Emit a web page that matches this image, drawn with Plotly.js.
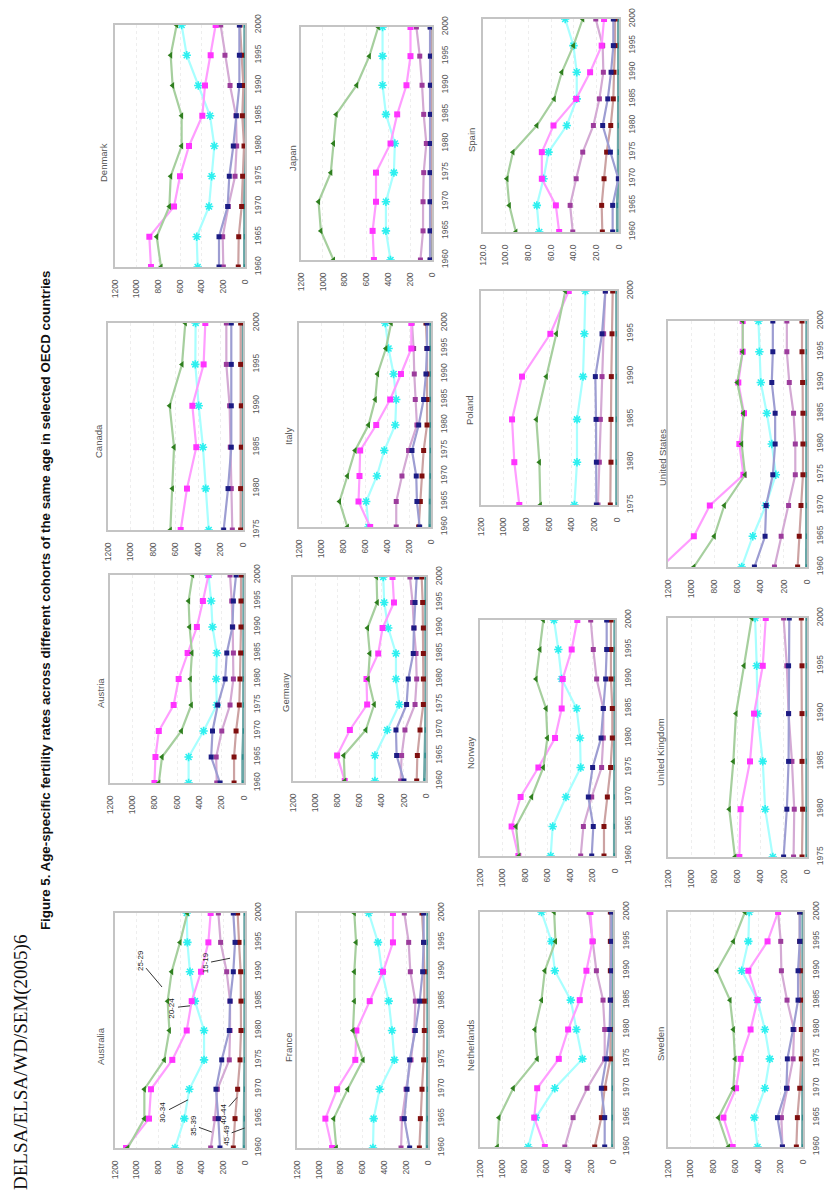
<!DOCTYPE html>
<html><head><meta charset="utf-8">
<script src="https://cdn.plot.ly/plotly-3.0.1.min.js"></script>
<style>html,body{margin:0;padding:0;background:#fff}#chart{width:826px;height:1198px}</style>
</head><body><div id="chart"></div><script>
// ---------------- DATA ----------------
const YEARS_1960 = [1960,1965,1970,1975,1980,1985,1990,1995,2000];
const YEARS_1975 = [1975,1980,1985,1990,1995,2000];
const AGE_GROUPS = ['15-19','20-24','25-29','30-34','35-39','40-44','45-49'];
const VALUE_TICKS = [0,200,400,600,800,1000,1200];
const SPAIN_TICKS = [0,20,40,60,80,100,120];
const SPAIN_TICK_TEXT = ['0','20.0','40.0','60.0','80.0','100.0','120.0'];

// rows: 15-19, 20-24, 25-29, 30-34, 35-39, 40-44, 45-49
const AUSTRALIA = [
  [231,246,268,215,145,138,108,92,108],
  [1098,886,868,671,538,492,406,338,317],
  [1083,929,929,745,698,714,677,600,532],
  [646,560,514,378,378,462,508,532,538],
  [317,277,255,145,138,138,169,225,246],
  [108,92,68,46,37,37,40,55,68],
  [10,6,4,3,3,3,3,3,3]];
const AUSTRIA = [
  [214,294,282,235,169,154,104,95,71],
  [802,793,763,630,585,505,422,368,318],
  [763,734,561,472,481,466,487,496,460],
  [496,496,362,244,249,244,282,294,318],
  [244,249,199,125,95,95,101,110,125],
  [89,89,71,42,36,30,27,27,27],
  [12,12,5,3,3,3,3,3,3]];
const CANADA = [
  [172,133,104,104,104,104],
  [554,498,415,450,350,335],
  [646,628,613,652,542,513],
  [305,332,356,394,424,421],
  [95,104,113,119,148,148],
  [21,21,15,15,21,21],
  [2,2,2,2,2,2]];
const DENMARK = [
  [240,240,160,145,108,80,52,52,52],
  [868,883,655,600,517,394,369,317,271],
  [775,815,698,686,585,585,668,686,631],
  [437,446,332,308,283,323,431,538,585],
  [200,206,154,92,77,83,138,185,225],
  [62,58,31,22,9,25,15,31,46],
  [5,4,3,2,2,2,2,2,3]];
const FRANCE = [
  [168,217,192,168,116,76,49,40,40],
  [879,940,833,666,656,534,412,321,321],
  [840,864,736,595,687,675,675,659,675],
  [504,498,443,308,330,360,421,458,543],
  [247,238,201,156,125,116,162,177,217],
  [79,70,55,40,34,34,34,40,55],
  [9,6,4,3,3,3,3,3,3]];
const GERMANY = [
  [199,265,271,175,160,115,109,99,84],
  [733,802,687,531,537,431,392,289,302],
  [733,742,543,467,522,507,528,440,446],
  [461,461,350,241,271,271,341,377,386],
  [229,220,190,99,84,90,109,121,145],
  [84,78,54,24,24,24,24,30,39],
  [15,8,5,3,3,3,3,3,3]];
const ITALY = [
  [103,128,134,173,112,67,46,36,36],
  [553,659,650,644,498,371,273,179,179],
  [760,832,760,690,568,507,486,410,362],
  [568,589,492,425,325,316,340,386,416],
  [316,316,264,204,128,143,152,158,173],
  [112,97,82,67,36,36,36,36,46],
  [12,12,6,4,3,3,3,3,3]];
const JAPAN = [
  [18,18,18,18,15,15,15,15,18],
  [532,544,513,513,380,319,234,197,197],
  [902,1018,1039,927,902,878,690,574,492],
  [380,422,422,349,340,422,453,453,453],
  [106,82,82,76,52,76,91,112,143],
  [15,10,8,6,5,6,8,10,12],
  [2,2,2,2,2,2,2,2,2]];
const NETHERLANDS = [
  [75,75,105,60,30,24,15,15,15],
  [615,711,684,489,405,300,240,186,204],
  [1044,1029,900,684,705,645,615,519,531],
  [765,696,525,276,330,381,525,555,645],
  [435,360,234,75,75,90,150,180,216],
  [165,105,75,24,24,24,24,24,24],
  [6,4,3,3,3,3,3,3,3]];
const NORWAY = [
  [207,193,237,199,124,104,83,74,74],
  [859,919,839,681,533,474,465,385,335],
  [853,880,741,637,601,613,702,667,637],
  [572,554,436,305,311,341,474,504,542],
  [305,281,207,119,104,104,163,193,216],
  [98,98,68,39,24,24,36,36,36],
  [6,5,4,3,3,3,3,3,3]];
const POLAND = [
  [182,182,185,191,132,103],
  [862,906,926,838,588,426],
  [676,685,712,624,535,456],
  [376,353,353,300,288,279],
  [168,156,147,132,118,103],
  [59,53,53,50,44,38],
  [4,4,4,4,4,4]];
const SPAIN = [
  [5.6,5.6,0.6,7.6,14.4,9.9,7.0,5.0,5.0],
  [52.8,55.7,68.1,68.1,57.8,37.8,25.5,15.3,13.2],
  [91.0,96.8,98.9,93.6,72.5,57.2,50.5,40.2,32.0],
  [70.4,72.5,66.6,62.2,46.1,37.3,37.3,40.2,47.5],
  [40.8,43.1,37.8,32.0,22.6,17.3,13.8,14.4,20.5],
  [14.7,15.3,13.2,10.9,7.3,5.0,4.4,3.5,3.5],
  [1.5,1.5,0.8,0.5,0.5,0.5,0.5,0.5,0.5]];
const SWEDEN = [
  [183,227,147,139,88,44,44,29,29],
  [625,707,595,554,466,404,486,315,221],
  [663,752,619,604,619,649,766,619,516],
  [404,433,339,295,339,404,545,486,478],
  [183,192,139,88,80,142,192,198,221],
  [59,50,29,15,15,21,24,29,29],
  [4,3,3,2,2,2,2,2,2]];
const UNITED_KINGDOM = [
  [202,174,159,159,159,153],
  [584,573,492,457,382,356],
  [622,671,636,613,544,477],
  [295,361,382,428,434,448],
  [116,110,130,159,174,202],
  [43,38,43,43,43,49],
  [3,3,3,3,3,3]];
const UNITED_STATES = [
  [454,362,353,295,275,275,304,295,295],
  [1260,977,839,549,584,544,593,555,555],
  [977,801,714,535,564,549,602,555,555],
  [564,468,356,269,304,347,399,411,419],
  [281,223,159,101,101,116,153,174,174],
  [81,67,52,35,35,35,38,43,43],
  [5,4,3,3,3,3,3,3,3]];

// ---------------- LAYOUT (page is rotated: years run upward, values run leftward) ----------------
const W = 826, H = 1198;
// box: [left, right, top, bottom] in px; lab: [x, y] of panel name
const PANELS = [
  {name:'Australia', data:AUSTRALIA, years:YEARS_1960, box:[115,245,913,1148], lab:[100,1046]},
  {name:'Austria', data:AUSTRIA, years:YEARS_1960, box:[110,244,575,783], lab:[100,693]},
  {name:'Canada', data:CANADA, years:YEARS_1975, box:[108,243,323,530], lab:[98,441]},
  {name:'Denmark', data:DENMARK, years:YEARS_1960, box:[115,245,25,267], lab:[103,163]},
  {name:'France', data:FRANCE, years:YEARS_1960, box:[297,428,913,1148], lab:[288,1047]},
  {name:'Germany', data:GERMANY, years:YEARS_1960, box:[293,426,577,781], lab:[285,693]},
  {name:'Italy', data:ITALY, years:YEARS_1960, box:[299,431,323,527], lab:[288,436]},
  {name:'Japan', data:JAPAN, years:YEARS_1960, box:[301,432,27,260], lab:[292,158]},
  {name:'Netherlands', data:NETHERLANDS, years:YEARS_1960, box:[480,613,912,1147], lab:[470,1046]},
  {name:'Norway', data:NORWAY, years:YEARS_1960, box:[480,615,620,856], lab:[470,753]},
  {name:'Poland', data:POLAND, years:YEARS_1975, box:[481,617,291,505], lab:[470,410]},
  {name:'Spain', data:SPAIN, years:YEARS_1960, box:[483,619,19,232], lab:[472,140], spain:true},
  {name:'Sweden', data:SWEDEN, years:YEARS_1960, box:[668,803,912,1147], lab:[660,1044]},
  {name:'United Kingdom', data:UNITED_KINGDOM, years:YEARS_1975, box:[668,807,618,857], lab:[660,752]},
  {name:'United States', data:UNITED_STATES, years:YEARS_1960, box:[668,807,321,567], lab:[662,458]}
];

const STYLES = [
  {line:'#9d9dd2', marker:'#1c1c84', symbol:'square', size:5, open:false, w:2.2},
  {line:'#ff9dff', marker:'#ff33ff', symbol:'square', size:6, open:false, w:2.2},
  {line:'#a6cf9e', marker:'#2f7f1f', symbol:'triangle-left', size:6, open:false, w:2.2},
  {line:'#a8ffff', marker:'#2ef0f0', symbol:'asterisk-open', size:7, open:true, w:2.2},
  {line:'#d4aad4', marker:'#9c3c9c', symbol:'square', size:5, open:false, w:2.2},
  {line:'#cca2a2', marker:'#7f0f0f', symbol:'square', size:5, open:false, w:2.2},
  {line:'#6aa6a6', marker:'#2f8f8f', symbol:'line-ns-open', size:4, open:true, w:2.8}
];
const DRAW_ORDER = [6,5,4,3,0,1,2];

const tickFont = {family:'Liberation Sans, Arial, sans-serif', size:8.5, color:'#555'};
const traces = [];
const layout = {
  width: W, height: H, margin:{l:0,r:0,t:0,b:0},
  paper_bgcolor:'#ffffff', plot_bgcolor:'#ffffff', showlegend:false,
  annotations: [], shapes: []
};

PANELS.forEach((p, i) => {
  const k = i + 1, sfx = k === 1 ? '' : String(k);
  const [L, R, T, B] = p.box;
  const vmax = p.spain ? 120 : 1200;
  layout['xaxis' + sfx] = {
    domain:[L / W, R / W], anchor:'y' + sfx, range:[vmax, 0], autorange:false,
    tickvals: p.spain ? SPAIN_TICKS : VALUE_TICKS,
    ticktext: p.spain ? SPAIN_TICK_TEXT : VALUE_TICKS.map(String),
    tickangle:-90, tickfont:tickFont, ticks:'outside', ticklen:7, tickcolor:'rgba(0,0,0,0)',
    showgrid:true, gridcolor:'#eeeeee', griddash:'dot', gridwidth:1, layer:'below traces',
    zeroline:false, showline:true, linecolor:'#c4c4c4', linewidth:2, mirror:true, fixedrange:true
  };
  const y0 = p.years[0];
  layout['yaxis' + sfx] = {
    domain:[1 - B / H, 1 - T / H], anchor:'x' + sfx, side:'right', range:[y0, 2000], autorange:false,
    tickvals: p.years, tickangle:-90, tickfont:tickFont, ticks:'outside', ticklen:4, tickcolor:'rgba(0,0,0,0)',
    showgrid:false, zeroline:false, showline:true, linecolor:'#c4c4c4', linewidth:2, mirror:true,
    layer:'below traces', fixedrange:true
  };
  DRAW_ORDER.forEach(s => {
    const st = STYLES[s];
    traces.push({
      type:'scatter', mode:'lines+markers', name: p.name + ' ' + AGE_GROUPS[s],
      x: p.data[s], y: p.years, xaxis:'x' + sfx, yaxis:'y' + sfx,
      line:{color:st.line, width:st.w},
      marker:{symbol:st.symbol, size:st.size, color:st.marker,
              line:{color:st.marker, width: st.open ? 1.6 : 0}},
      cliponaxis:true, hoverinfo:'skip'
    });
  });
  layout.annotations.push({
    text:p.name, xref:'paper', yref:'paper', x:p.lab[0] / W, y:1 - p.lab[1] / H,
    xanchor:'center', yanchor:'middle', showarrow:false, textangle:-90,
    font:{family:'Liberation Sans, Arial, sans-serif', size:9.5, color:'#555'}
  });
});

// age-group call-outs on the Australia panel
const CALLOUTS = [
  {text:'25-29', x:766, y:1987.4, ax:-22, ay:-26},
  {text:'20-24', x:508, y:1984.2, ax:-18, ay:2},
  {text:'15-19', x:138, y:1992.3, ax:-25, ay:5},
  {text:'30-34', x:526, y:1968.2, ax:-25, ay:13},
  {text:'35-39', x:305, y:1962.7, ax:-19, ay:-7},
  {text:'40-44', x:74, y:1968.6, ax:-14, ay:16},
  {text:'45-49', x:3, y:1963.4, ax:-19, ay:7}
];
CALLOUTS.forEach(c => layout.annotations.push({
  text:c.text, xref:'x', yref:'y', x:c.x, y:c.y, ax:c.ax, ay:c.ay,
  showarrow:true, arrowhead:0, arrowwidth:1, arrowcolor:'#333', textangle:-90,
  font:{family:'Liberation Sans, Arial, sans-serif', size:8, color:'#222'}
}));

// page header + figure title (rotated page)
layout.annotations.push({
  text:'DELSA/ELSA/WD/SEM(2005)6', xref:'paper', yref:'paper', x:21 / W, y:1 - 1063 / H,
  xanchor:'center', yanchor:'middle', showarrow:false, textangle:-90,
  font:{family:'Liberation Serif, Times New Roman, serif', size:19, color:'#111'}
});
layout.annotations.push({
  text:'<b>Figure 5. Age-specific fertility rates across different cohorts of the same age in selected OECD countries</b>',
  xref:'paper', yref:'paper', x:45 / W, y:1 - 601 / H,
  xanchor:'center', yanchor:'middle', showarrow:false, textangle:-90,
  font:{family:'Liberation Sans, Arial, sans-serif', size:13.3, color:'#111'}
});

Plotly.newPlot('chart', traces, layout, {staticPlot:true, displayModeBar:false});
</script></body></html>
